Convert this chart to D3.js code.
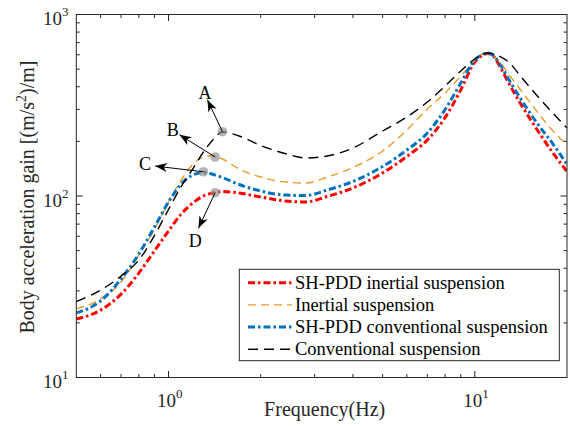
<!DOCTYPE html>
<html><head><meta charset="utf-8">
<script src="https://cdn.jsdelivr.net/npm/d3@7"></script>
<style>
html,body{margin:0;padding:0;background:#fff;}
svg{display:block;font-family:"Liberation Serif","Times New Roman",serif;}
</style>
</head><body>
<svg id="chart" width="570" height="426"></svg>
<script>
// ---------- data ----------
const freq = [0.5,0.6,0.7,0.8,0.9,1.0,1.1,1.2,1.3,1.4,1.5,1.7,2.0,2.4,2.8,3.3,4,5,6,7,8,9,10,10.5,11,11.5,12,13,14,16,18,20];
const shpddInertial = [21.0,23.5,28.8,37.6,49.8,64.2,79.6,91.5,100,103.9,105.9,103.9,98.7,93.9,92.7,99.4,110.7,133.9,165.1,203.5,270.7,383.7,547.4,590.7,609.8,590.7,526.9,410.0,329.6,231.0,172.6,136.5];
const inertial = [23.9,27.1,33.6,47.3,65.8,92.7,122.5,149.2,164.0,167.1,159.9,140.9,127.2,119.4,117.9,127.2,143.6,177.0,231.0,301.6,369.4,458.4,557.9,602.0,609.8,594.5,554.4,461.2,391.1,290.3,228.1,191.0];
const shpddConventional = [22.7,26.4,34.9,47.9,67.5,92.7,116.5,130.5,134.7,131.4,126.4,115.7,106.5,101.3,100.6,107.9,120.2,145.4,179.2,222.4,299.7,419.3,561.5,598.3,613.7,594.5,540.5,430.0,351.2,250.8,193.4,149.2];
const conventional = [26.2,30.3,36.2,44.4,60.6,84.3,112.8,140.9,174.8,204.8,225.3,214.1,189.8,171.5,162.0,166.1,183.8,228.1,272.4,329.6,403.7,488.3,568.5,598.3,613.7,606.0,590.7,540.5,464.2,355.6,285.6,237.0];
const seriesNames = ["SH-PDD inertial suspension","Inertial suspension","SH-PDD conventional suspension","Conventional suspension"];
const xMajorTicks = [1,10];
const xTickExp = ["0","1"];
const yMajorTicks = [10,100,1000];
const yTickExp = ["1","2","3"];
const markerLabels = ["A","B","C","D"];
const markerFreq = [1.5,1.42,1.3,1.42];
const markerVal = [226,164,136,104.3];

// ---------- styles / layout ----------
const W = 570, H = 426;
const L = 76.3, R = 567, T = 14.5, B = 377.5;
const styles = [
  {color:"#ff0000", width:3, dash:"7,3,2.5,3"},
  {color:"#EB9A2C", width:1.4, dash:"8,5"},
  {color:"#0072BD", width:3, dash:"7,3,2.5,3"},
  {color:"#000000", width:1.4, dash:"10,6"}
];
// arrow tip and label offsets (pixels relative to marker)
const arrowOff = [[-15,-32],[-35.7,-22.3],[-48.3,-5.7],[-16.7,35.6]];
const labelOff = [[-17.5,-32.5],[-42.5,-20.6],[-58.3,-1.7],[-20,54]];

const svg = d3.select("#chart");
const x = d3.scaleLog().domain([0.5,20]).range([L,R]);
const y = d3.scaleLog().domain([10,1000]).range([B,T]);

svg.append("rect").attr("width",W).attr("height",H).attr("fill","#fff");

const defs = svg.append("defs");
defs.append("clipPath").attr("id","clip").append("rect")
  .attr("x",L).attr("y",T).attr("width",R-L).attr("height",B-T);

// ---------- series ----------
const allSeries = [shpddInertial, inertial, shpddConventional, conventional];
const line = d3.line().x(d=>x(d[0])).y(d=>y(d[1])).curve(d3.curveMonotoneX);
const g = svg.append("g").attr("clip-path","url(#clip)");
allSeries.forEach((s,i)=>{
  g.append("path")
    .datum(freq.map((f,j)=>[f,s[j]]))
    .attr("d",line)
    .attr("fill","none")
    .attr("stroke",styles[i].color)
    .attr("stroke-width",styles[i].width)
    .attr("stroke-dasharray",styles[i].dash);
});

// ---------- markers & arrows ----------
function arrow(x1,y1,x2,y2){
  svg.append("line").attr("x1",x1).attr("y1",y1).attr("x2",x2).attr("y2",y2)
    .attr("stroke","#000").attr("stroke-width",1);
  const dx=x2-x1, dy=y2-y1, len=Math.hypot(dx,dy);
  const ux=dx/len, uy=dy/len, nx=-uy, ny=ux;
  const Lh=12, Wh=9;
  const p=[[x2,y2],
    [x2-Lh*ux+Wh/2*nx, y2-Lh*uy+Wh/2*ny],
    [x2-0.72*Lh*ux, y2-0.72*Lh*uy],
    [x2-Lh*ux-Wh/2*nx, y2-Lh*uy-Wh/2*ny]];
  svg.append("path").attr("d","M"+p.map(q=>q.join(",")).join("L")+"Z").attr("fill","#000");
}
markerLabels.forEach((lab,i)=>{
  const mx=x(markerFreq[i]), my=y(markerVal[i]);
  svg.append("circle").attr("cx",mx).attr("cy",my).attr("r",4.8)
    .attr("fill","#8c8c8c").attr("fill-opacity",0.65);
  arrow(mx,my,mx+arrowOff[i][0],my+arrowOff[i][1]);
  svg.append("text").attr("x",mx+labelOff[i][0]).attr("y",my+labelOff[i][1])
    .attr("text-anchor","middle").attr("font-size",18).attr("fill","#000").text(lab);
});

// ---------- axes box & ticks ----------
const axisColor = "#262626";
const ax = svg.append("g");
ax.append("rect").attr("x",L).attr("y",T).attr("width",R-L).attr("height",B-T)
  .attr("fill","none").attr("stroke",axisColor).attr("stroke-width",1);
const maj=6.5, mn=3.5;
const xMinor=[]; [0.1,1,10].forEach(d=>{for(let k=2;k<=9;k++){const v=d*k; if(v>0.5&&v<20) xMinor.push(v);}});
const yMinor=[]; [10,100].forEach(d=>{for(let k=2;k<=9;k++) yMinor.push(d*k);});
function vt(xx,len){
  ax.append("line").attr("x1",xx).attr("x2",xx).attr("y1",B).attr("y2",B-len).attr("stroke",axisColor);
  ax.append("line").attr("x1",xx).attr("x2",xx).attr("y1",T).attr("y2",T+len).attr("stroke",axisColor);
}
function ht(yy,len){
  ax.append("line").attr("y1",yy).attr("y2",yy).attr("x1",L).attr("x2",L+len).attr("stroke",axisColor);
  ax.append("line").attr("y1",yy).attr("y2",yy).attr("x1",R).attr("x2",R-len).attr("stroke",axisColor);
}
xMajorTicks.forEach(v=>vt(x(v),maj));
xMinor.forEach(v=>vt(x(v),mn));
yMajorTicks.forEach(v=>ht(y(v),maj));
yMinor.forEach(v=>ht(y(v),mn));

// tick labels
const txtColor="#262626";
xMajorTicks.forEach((v,i)=>{
  const t=svg.append("text").attr("x",x(v)-11.6).attr("y",407).attr("font-size",19).attr("fill",txtColor);
  t.append("tspan").text("10");
  t.append("tspan").attr("dy",-9).attr("font-size",13).text(xTickExp[i]);
});
yMajorTicks.forEach((v,i)=>{
  const t=svg.append("text").attr("x",43).attr("y",y(v)+10.5).attr("font-size",19).attr("fill",txtColor);
  t.append("tspan").text("10");
  t.append("tspan").attr("dy",-9).attr("font-size",13).text(yTickExp[i]);
});

// axis titles
svg.append("text").attr("x",(L+R)/2+3).attr("y",416).attr("text-anchor","middle")
  .attr("font-size",20).attr("fill",txtColor).text("Frequency(Hz)");
const yl=svg.append("text").attr("transform","translate(34,197) rotate(-90)")
  .attr("text-anchor","middle").attr("font-size",20).attr("fill",txtColor);
yl.append("tspan").text("Body acceleration gain [(m/s");
yl.append("tspan").attr("dy",-8).attr("font-size",14).text("2");
yl.append("tspan").attr("dy",8).text(")/m]");

// ---------- legend ----------
const lg = svg.append("g");
lg.append("rect").attr("x",239.3).attr("y",269.3).attr("width",320).attr("height",91.4)
  .attr("fill","#fff").attr("stroke",axisColor).attr("stroke-width",1);
seriesNames.forEach((n,i)=>{
  const yy=282.7+i*22.2;
  lg.append("line").attr("x1",248).attr("x2",292).attr("y1",yy).attr("y2",yy)
    .attr("stroke",styles[i].color).attr("stroke-width",styles[i].width).attr("stroke-dasharray",styles[i].dash);
  lg.append("text").attr("x",295).attr("y",yy+6).attr("font-size",18.5).attr("fill","#000").text(n);
});
</script>
</body></html>
